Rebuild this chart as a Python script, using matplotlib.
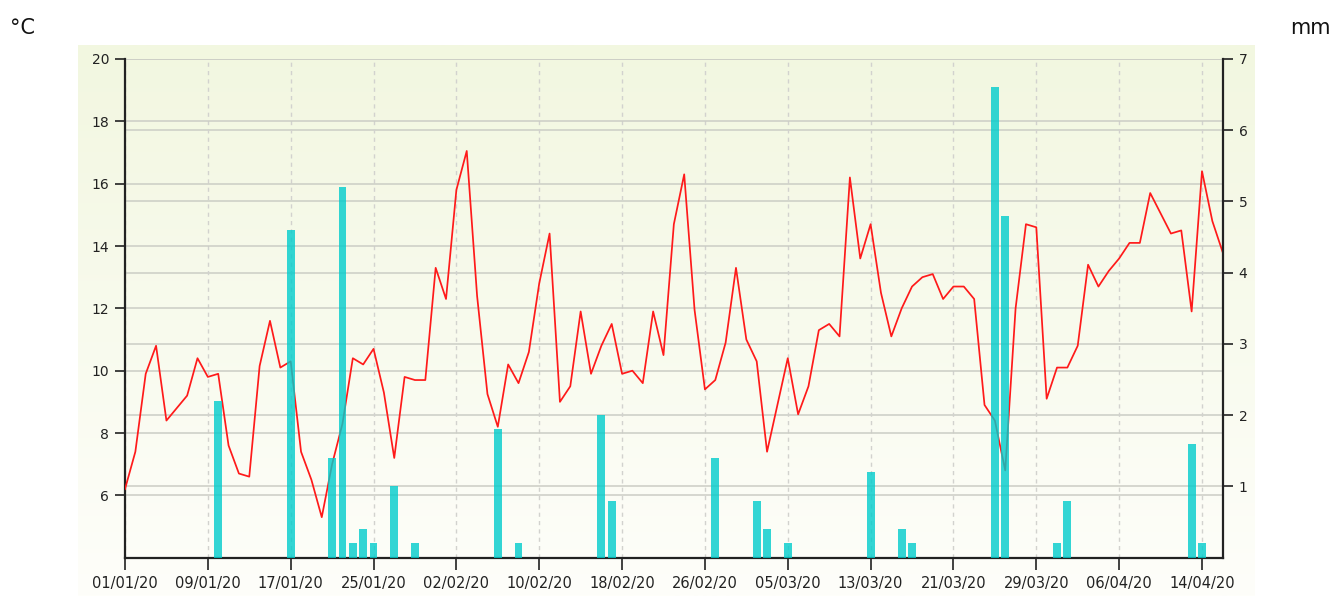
import numpy as np
import matplotlib
matplotlib.use("Agg")
import matplotlib.pyplot as plt
import matplotlib.transforms as mtransforms

# ---- data ----
temperature = [
    6.2, 7.4, 9.9, 10.8, 8.4, 8.8, 9.2, 10.4, 9.8, 9.9,
    7.6, 6.7, 6.6, 10.15, 11.6, 10.1, 10.3, 7.4, 6.5, 5.3,
    7.0, 8.3, 10.4, 10.2, 10.7, 9.3, 7.2, 9.8, 9.7, 9.7,
    13.3, 12.3, 15.8, 17.05, 12.4, 9.25, 8.2, 10.2, 9.6, 10.6,
    12.8, 14.4, 9.0, 9.5, 11.9, 9.9, 10.8, 11.5, 9.9, 10.0,
    9.6, 11.9, 10.5, 14.7, 16.3, 11.95, 9.4, 9.7, 10.9, 13.3,
    11.0, 10.3, 7.4, 8.9, 10.4, 8.6, 9.5, 11.3, 11.5, 11.1,
    16.2, 13.6, 14.7, 12.5, 11.1, 12.0, 12.7, 13.0, 13.1, 12.3,
    12.7, 12.7, 12.3, 8.9, 8.4, 6.8, 12.0, 14.7, 14.6, 9.1,
    10.1, 10.1, 10.8, 13.4, 12.7, 13.2, 13.6, 14.1, 14.1, 15.7,
    15.05, 14.4, 14.5, 11.9, 16.4, 14.8, 13.8,
]
days = np.arange(len(temperature))  # days since 01/01/20

precip_days = [9, 16, 20, 21, 22, 23, 24, 26, 28, 36, 38, 46, 47, 57,
               61, 62, 64, 72, 75, 76, 84, 85, 90, 91, 103, 104]
precip_mm = [2.2, 4.6, 1.4, 5.2, 0.2, 0.4, 0.2, 1.0, 0.2, 1.8, 0.2, 2.0, 0.8, 1.4,
             0.8, 0.4, 0.2, 1.2, 0.4, 0.2, 6.6, 4.8, 0.2, 0.8, 1.6, 0.2]

xtick_days = [0, 8, 16, 24, 32, 40, 48, 56, 64, 72, 80, 88, 96, 104]
xtick_labels = ["01/01/20", "09/01/20", "17/01/20", "25/01/20", "02/02/20",
                "10/02/20", "18/02/20", "26/02/20", "05/03/20", "13/03/20",
                "21/03/20", "29/03/20", "06/04/20", "14/04/20"]
left_ticks = [6, 8, 10, 12, 14, 16, 18, 20]
right_ticks = [1, 2, 3, 4, 5, 6, 7]

# ---- figure ----
W, H = 1333, 596
fig = plt.figure(figsize=(W / 100, H / 100), dpi=100)
plt.rcParams['font.family'] = ['DejaVu Sans']

# gradient background panel
bg = fig.add_axes([78 / W, 0, (1255 - 78) / W, 1 - 45 / H], zorder=-5)
top = np.array([242, 247, 224]) / 255
bot = np.array([254, 254, 250]) / 255
t = np.linspace(0, 1, 256)[:, None]
grad = (top[None, :] * (1 - t) + bot[None, :] * t)[:, None, :]
bg.imshow(grad, aspect='auto', extent=[0, 1, 0, 1])
bg.set_axis_off()

L, R, B, T = 125, 1222.7, 557.7, 59
ax = fig.add_axes([L / W, 1 - B / H, (R - L) / W, (B - T) / H])
ax.set_facecolor('none')
ax2 = ax.twinx()
ax2.set_facecolor('none')

ax.set_xlim(0, len(temperature) - 1)
ax.set_ylim(4, 20)
ax2.set_ylim(0, 7)

grid_color = '#cbcdc5'
ax.set_yticks(left_ticks)
ax.grid(True, axis='y', color=grid_color, linewidth=1.1, zorder=0)
ax.set_xticks(xtick_days)
ax.set_xticklabels(xtick_labels)
ax.grid(True, axis='x', color='#d2d2ce', linewidth=1.0, linestyle=(0, (3, 3)))
ax.set_axisbelow(True)
trans = mtransforms.blended_transform_factory(ax.transAxes, ax2.transData)
for v in right_ticks:
    ax.plot([0, 1], [v, v], transform=trans, color=grid_color, linewidth=1.1, zorder=0.5)

# temperature line
ax.plot(days, temperature, color='#ff1a1a', linewidth=1.25, zorder=3)

# precipitation bars
ax2.bar(precip_days, precip_mm, width=0.76, color='#00cccc', alpha=0.8, zorder=3)
ax2.set_yticks(right_ticks)

for a in (ax, ax2):
    for s in a.spines.values():
        s.set_visible(False)
for a, side in ((ax, 'left'), (ax, 'bottom'), (ax2, 'right')):
    a.spines[side].set_visible(True)
    a.spines[side].set_color('#222222')
    a.spines[side].set_linewidth(1.6)

ax.tick_params(axis='y', direction='out', length=7.5, width=1.2, color='#222222',
               labelsize=10, pad=4, labelcolor='#222222')
ax.tick_params(axis='x', direction='out', length=8.5, width=1.2, color='#222222',
               labelsize=10.5, pad=5, labelcolor='#222222')
ax2.tick_params(axis='y', direction='out', length=7.5, width=1.2, color='#222222',
                labelsize=10, pad=4, labelcolor='#222222')

fig.text(10 / W, 1 - 28 / H, '°C', fontsize=15, ha='left', va='center', color='#111111')
fig.text(1331 / W, 1 - 28 / H, 'mm', fontsize=15, ha='right', va='center', color='#111111')

fig.savefig('out.png', dpi=100)
